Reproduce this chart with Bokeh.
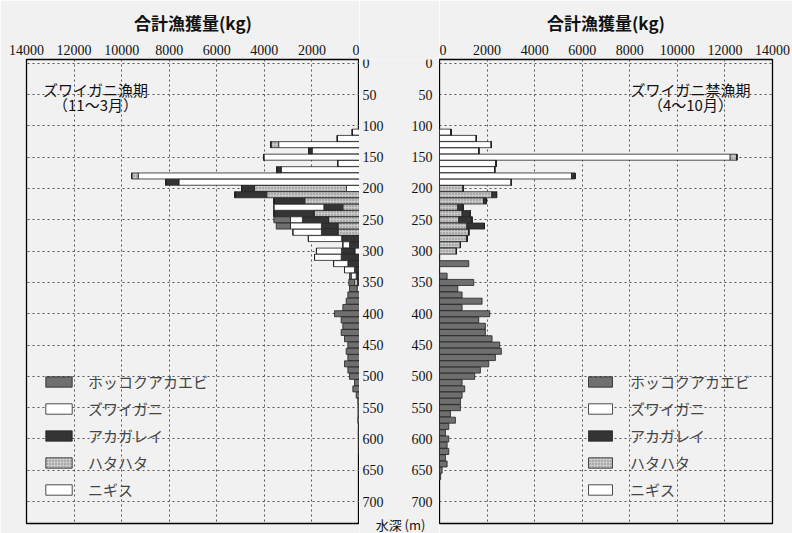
from bokeh.plotting import figure
from bokeh.models import Range1d, FixedTicker, Legend, LegendItem, Label, ColumnDataSource
from bokeh.core.properties import value
from bokeh.layouts import row
from bokeh.embed import file_html
from bokeh.resources import INLINE

# ---------------- data ----------------
depths = list(range(110, 670, 10))  # 水深 (m), 56 bins

species = ["ホッコクアカエビ", "ズワイガニ", "アカガレイ", "ハタハタ", "ニギス"]

# 漁期 (11～3月)
open_nigisu = [300, 930, 3400, 2000, 4030, 920, 3300, 9300, 7600, 550,
               0, 0, 0, 0, 0, 0, 0, 0, 0, 200,
               0, 0, 0, 0, 0, 0, 0, 0, 0, 0,
               0, 0, 0, 0, 0, 0, 0, 0, 0, 0,
               0, 0, 0, 0, 0, 0, 0, 0, 0, 0,
               0, 0, 0, 0, 0, 0]
open_hatahata = [0, 0, 330, 0, 0, 0, 0, 280, 0, 3860,
                 3900, 2300, 700, 1900, 1300, 900, 900, 0, 0, 0,
                 0, 0, 0, 0, 0, 0, 0, 0, 0, 0,
                 0, 0, 0, 0, 0, 0, 0, 0, 0, 0,
                 0, 0, 0, 0, 0, 0, 0, 0, 0, 0,
                 0, 0, 0, 0, 0, 0]
open_akagarei = [0, 0, 0, 140, 0, 0, 180, 0, 550, 550,
                 1340, 1300, 800, 1700, 1100, 700, 700, 750, 420, 560,
                 770, 490, 210, 140, 100, 0, 0, 0, 0, 0,
                 0, 0, 0, 0, 0, 0, 0, 0, 0, 0,
                 0, 0, 0, 0, 0, 0, 0, 0, 0, 0,
                 0, 0, 0, 0, 0, 0]
open_zuwaigani = [0, 0, 0, 0, 0, 0, 0, 0, 0, 0,
                  0, 0, 2100, 0, 500, 1300, 1200, 1400, 280, 1050,
                  1120, 600, 420, 210, 100, 100, 0, 0, 0, 0,
                  0, 0, 0, 0, 0, 0, 0, 0, 0, 0,
                  0, 0, 0, 0, 0, 0, 0, 0, 0, 0,
                  0, 0, 0, 0, 0, 0]
open_hokkoku = [0, 0, 0, 0, 0, 0, 0, 0, 0, 0,
                0, 0, 0, 0, 700, 600, 0, 0, 0, 0,
                0, 0, 0, 70, 250, 320, 490, 560, 700, 1050,
                770, 700, 770, 630, 490, 560, 490, 630, 490, 420,
                210, 280, 140, 70, 60, 60, 70, 40, 50, 30,
                40, 30, 0, 0, 0, 0]

# 禁漁期 (4～10月)
closed_nigisu = [490, 1550, 2180, 1650, 12220, 2380, 2320, 5550, 3020, 0,
                 0, 0, 0, 0, 0, 0, 0, 0, 0, 0,
                 0, 0, 0, 0, 0, 0, 0, 0, 0, 0,
                 0, 0, 0, 0, 0, 0, 0, 0, 0, 0,
                 0, 0, 0, 0, 0, 0, 0, 0, 0, 0,
                 0, 0, 0, 0, 0, 0]
closed_hatahata = [0, 0, 0, 0, 280, 0, 0, 0, 0, 1000,
                   2200, 1850, 770, 950, 810, 1150, 1230, 1160, 880, 710,
                   0, 0, 0, 0, 0, 0, 0, 0, 0, 0,
                   0, 0, 0, 0, 0, 0, 0, 0, 0, 0,
                   0, 0, 0, 0, 0, 0, 0, 0, 0, 0,
                   0, 0, 0, 0, 0, 0]
closed_akagarei = [0, 0, 0, 0, 0, 0, 0, 150, 0, 0,
                   200, 120, 220, 350, 560, 740, 0, 0, 0, 0,
                   0, 0, 0, 0, 0, 0, 0, 0, 0, 0,
                   0, 0, 0, 0, 0, 0, 0, 0, 0, 0,
                   0, 0, 0, 0, 0, 0, 0, 0, 0, 0,
                   0, 0, 0, 0, 0, 0]
closed_zuwaigani = [0] * 56
closed_hokkoku = [0, 0, 0, 0, 0, 0, 0, 0, 0, 0,
                  0, 0, 0, 0, 0, 0, 0, 0, 0, 0,
                  0, 1230, 0, 320, 1440, 770, 950, 1790, 950, 2110,
                  1650, 1930, 1930, 2210, 2530, 2600, 2350, 2070, 1720, 1480,
                  950, 1060, 950, 880, 880, 460, 670, 390, 250, 390,
                  320, 390, 250, 320, 110, 50]

x_ticks = [0, 2000, 4000, 6000, 8000, 10000, 12000, 14000]
y_ticks = [0, 50, 100, 150, 200, 250, 300, 350, 400, 450, 500, 550, 600, 650, 700]
x_title = "合計漁獲量(kg)"
y_title = "水深 (m)"

# ---------------- style ----------------
BG = "#f1f1f1"
CJK = "Noto Sans CJK JP"
NUM = "Liberation Sans Narrow"
stack_keys = ["N", "H", "A", "Z", "E"]          # from the axis outward
fill = {"E": "#6f6f6f", "Z": "#ffffff", "A": "#343434", "H": "#c9c9c9", "N": "#ffffff"}
hatch = {"E": " ", "Z": " ", "A": " ", "H": "dot", "N": " "}
legend_keys = ["E", "Z", "A", "H", "N"]

Y_TOP = -6        # depth at top of frame
Y_BOT = 735       # depth at bottom of panel frames (464 px)
PX_PER_M = 464 / (Y_BOT - Y_TOP)


def make_panel(values, side):
    src = ColumnDataSource(dict(depth=depths, **values))
    left_panel = side == "left"
    xr = Range1d(14000, 0) if left_panel else Range1d(0, 14000)
    p = figure(
        x_range=xr, y_range=Range1d(Y_BOT, Y_TOP),
        frame_width=333, frame_height=464,
        min_border_left=26 if left_panel else 0,
        min_border_right=0 if left_panel else 20,
        min_border_top=59, min_border_bottom=10,
        x_axis_location="above", y_axis_location=None,
        output_backend="svg", toolbar_location=None,
        background_fill_color=BG, border_fill_color=BG,
        outline_line_color="black", outline_line_width=1.3,
    )
    rs = p.hbar_stack(
        stack_keys, y="depth", height=9.6, source=src,
        fill_color=[fill[k] for k in stack_keys],
        hatch_pattern=[hatch[k] for k in stack_keys],
        hatch_color="#777777", hatch_scale=3, hatch_weight=1,
        line_color="#222222", line_width=0.8,
    )
    rmap = dict(zip(stack_keys, rs))

    xa = p.xaxis[0]
    xa.ticker = FixedTicker(ticks=x_ticks)
    xa.axis_label = x_title
    xa.axis_label_text_font = CJK
    xa.axis_label_text_font_size = "17px"
    xa.axis_label_text_font_style = "bold"
    xa.axis_label_standoff = 7
    xa.axis_label_text_color = "#111111"
    xa.major_label_text_font = NUM
    xa.major_label_text_font_size = "14px"
    xa.major_label_text_color = "#111111"
    xa.major_label_standoff = 5
    xa.axis_line_color = None
    xa.major_tick_in = 0
    xa.major_tick_out = 0
    xa.minor_tick_line_color = None

    p.xgrid.ticker = FixedTicker(ticks=x_ticks)
    p.ygrid.ticker = FixedTicker(ticks=y_ticks)
    for g in (p.xgrid, p.ygrid):
        g.grid_line_color = "#555555"
        g.grid_line_dash = "2 3"
        g.grid_line_width = 1

    legend = Legend(
        items=[LegendItem(label=s, renderers=[rmap[k]]) for s, k in zip(species, legend_keys)],
        location=(16, 23) if left_panel else (146, 23),
        orientation="vertical", padding=0, margin=0, spacing=6,
        glyph_width=33 if left_panel else 30, glyph_height=13, label_height=13,
        label_standoff=13 if left_panel else 15,
        label_text_font=CJK, label_text_font_size="15px",
        background_fill_alpha=0, border_line_alpha=0,
    )
    p.add_layout(legend)
    return p


left = make_panel(dict(N=open_nigisu, H=open_hatahata, A=open_akagarei,
                       Z=open_zuwaigani, E=open_hokkoku), "left")
right = make_panel(dict(N=closed_nigisu, H=closed_hatahata, A=closed_akagarei,
                        Z=closed_zuwaigani, E=closed_hokkoku), "right")

txt = dict(text_font=CJK, text_font_size="15px", text_align="center",
           text_baseline="middle", text_color="#111111")
left.add_layout(Label(x=11100, y=42, text="ズワイガニ漁期", **txt))
left.add_layout(Label(x=11100, y=66, text="（11～3月）", **txt))
right.add_layout(Label(x=10550, y=42, text="ズワイガニ禁漁期", **txt))
right.add_layout(Label(x=10550, y=66, text="（4～10月）", **txt))

# middle strip: the two depth scales and the depth title, on the same depth scale
MID_H = 474
mid = figure(
    x_range=Range1d(0, 80), y_range=Range1d(Y_TOP + MID_H / PX_PER_M, Y_TOP),
    frame_width=80, frame_height=MID_H,
    min_border_left=0, min_border_right=0, min_border_top=59, min_border_bottom=0,
    x_axis_location=None, y_axis_location=None,
    output_backend="svg", toolbar_location=None,
    background_fill_color=BG, border_fill_color=BG, outline_line_color=None,
)
mid.xgrid.visible = False
mid.ygrid.visible = False
tick_src = ColumnDataSource(dict(y=y_ticks, t=[str(v) for v in y_ticks],
                                 xl=[3] * len(y_ticks), xr=[73] * len(y_ticks)))
mid.text(x="xl", y="y", text="t", source=tick_src, text_align="left", text_baseline="middle",
         text_font=value(NUM), text_font_size="14px", text_color="#111111")
mid.text(x="xr", y="y", text="t", source=tick_src, text_align="right", text_baseline="middle",
         text_font=value(NUM), text_font_size="14px", text_color="#111111")
mid.add_layout(Label(x=41, y=Y_BOT + 2, text=y_title, text_font=CJK, text_font_size="13px",
                     text_align="center", text_baseline="middle", text_color="#111111"))

page = row(left, mid, right, spacing=0)
open("out.html", "w").write(file_html(page, INLINE))
